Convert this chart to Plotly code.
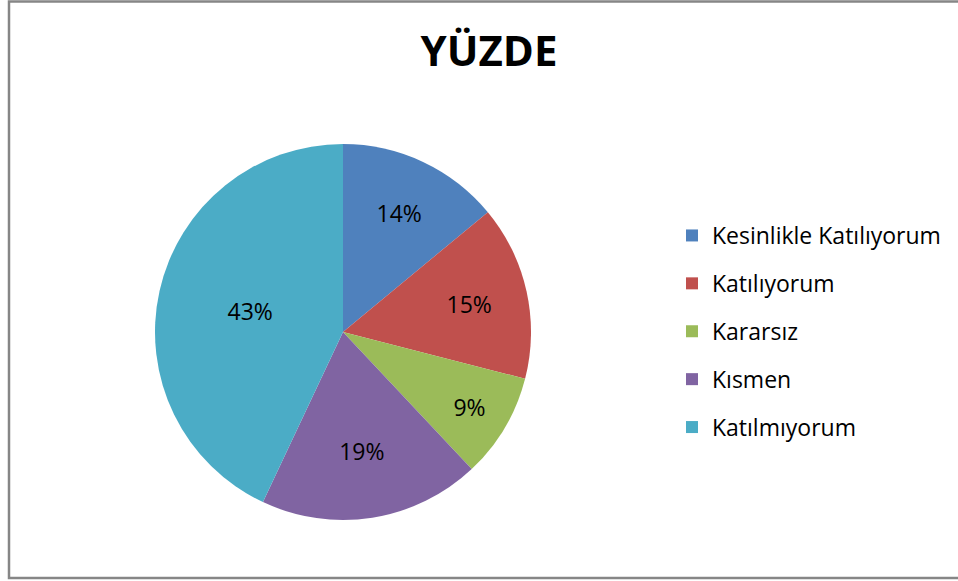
import plotly.graph_objects as go

categories = ["Kesinlikle Katılıyorum", "Katılıyorum", "Kararsız", "Kısmen", "Katılmıyorum"]
values = [14, 15, 9, 19, 43]
colors = ["#4F81BD", "#C0504D", "#9BBB59", "#8064A2", "#4BACC6"]
title_text = "YÜZDE"

W, H = 958, 581
cx, cy, r = 343, 332, 188

fig = go.Figure()
fig.add_trace(go.Pie(
    labels=categories,
    values=values,
    sort=False,
    direction="clockwise",
    rotation=0,
    marker=dict(colors=colors, line=dict(width=0)),
    textinfo="percent",
    texttemplate="%{percent:.0%}",
    textposition="inside",
    insidetextorientation="horizontal",
    textfont=dict(family="Open Sans", size=23, color="#000000"),
    domain=dict(x=[(cx - r) / W, (cx + r) / W], y=[1 - (cy + r) / H, 1 - (cy - r) / H]),
    hoverinfo="label+percent",
    showlegend=False,
))

# legend entries (one per category, same colours as the slices)
for cat, col in zip(categories, colors):
    fig.add_trace(go.Scatter(
        x=[None], y=[None], mode="markers", name=cat, legendgroup=cat,
        marker=dict(symbol="square", size=12, color=col), showlegend=True,
        hoverinfo="skip",
    ))

fig.update_layout(
    width=W, height=H,
    margin=dict(l=0, r=0, t=0, b=0),
    paper_bgcolor="white",
    plot_bgcolor="white",
    xaxis=dict(visible=False),
    yaxis=dict(visible=False),
    title=dict(text="<b>" + title_text + "</b>", x=489 / W, xanchor="center",
               y=1 - 51 / H, yanchor="middle", yref="container",
               font=dict(family="Open Sans", size=42, color="#000000")),
    legend=dict(x=672 / W, xanchor="left", y=1 - 331.5 / H, yanchor="middle",
                font=dict(family="Open Sans", size=23, color="#000000"),
                traceorder="grouped", tracegroupgap=15,
                itemwidth=30, bgcolor="rgba(0,0,0,0)"),
    shapes=[dict(type="rect", xref="paper", yref="paper",
                 x0=9 / W, x1=970 / W, y0=1 - 578 / H, y1=1 - 1.5 / H,
                 line=dict(color="#868686", width=2.5), fillcolor="rgba(0,0,0,0)")],
)

fig.write_html("out.html")
